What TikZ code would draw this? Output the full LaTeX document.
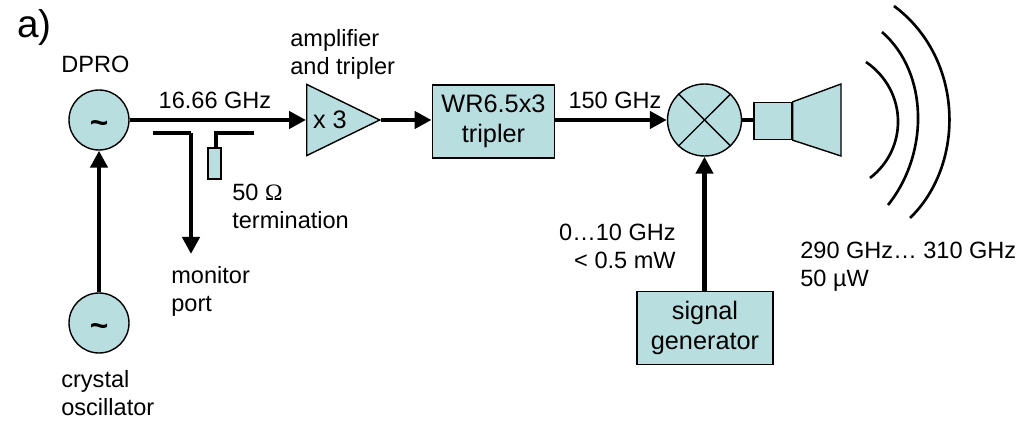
\documentclass[tikz,border=0pt]{standalone}
\usepackage{fontspec}
\setmainfont{Liberation Sans}
\newfontfamily\omegafont{Liberation Serif}
\usepackage{xcolor}
\usetikzlibrary{arrows.meta,positioning,shapes.geometric}
\definecolor{cblock}{rgb}{0.72,0.87,0.88}
\tikzset{
  blockbox/.style={draw, fill=cblock, thick, inner sep=0pt, align=center, font=\fontsize{14.4}{17.2}\selectfont},
  osc/.style={blockbox, circle, minimum size=1.20cm, font=\fontsize{18}{18}\selectfont\bfseries},
  feed/.style={line width=2.8pt, -{Triangle[length=3.4mm,width=3.4mm]}},
  feedplain/.style={line width=2.8pt},
  stub/.style={line width=2.2pt},
  wave/.style={line width=1.5pt},
  lbl/.style={inner sep=0pt, align=left}
}

\begin{document}
\begin{tikzpicture}[font=\fontsize{13.4}{15.9}\selectfont]
        \useasboundingbox (0,0) rectangle (20.38,8.40);

        % sources
        \node[osc] (dpro) at (1.98,6.00){\smash{\raisebox{-2.8mm}{\char`\~}}};
        \node[osc] (crystal) at (1.98,1.94){\smash{\raisebox{-2.8mm}{\char`\~}}};

        % chain
        \node[blockbox, isosceles triangle, isosceles triangle apex angle=52,
              minimum height=1.46cm, minimum width=1.42cm, anchor=lower side]
              (amp) at (6.12,6.00){x 3};
        \node[blockbox, minimum width=2.45cm, minimum height=1.46cm]
              (tripler) at (9.87,5.97){WR6.5x3\\tripler};
        \node[blockbox, ellipse, minimum width=1.48cm, minimum height=1.44cm]
              (mixer) at (14.09,6.00){};
        \node[blockbox, minimum width=2.72cm, minimum height=1.46cm]
              (siggen) at (14.10,1.84){signal\\generator};
        \node[blockbox, minimum width=0.76cm, minimum height=0.74cm]
              (hornbox) at (15.46,5.98){};
        \node[blockbox, minimum width=0.26cm, minimum height=0.62cm]
              (term) at (4.29,5.13){};

        % mixer cross
        \draw[thick] (mixer.45)--(mixer.225);
        \draw[thick] (mixer.135)--(mixer.315);

        % horn
        \draw[blockbox] (hornbox.north east)--(16.82,6.72)--(16.82,5.28)
          --(hornbox.south east)--cycle;

        % connectors
        \draw[feed] (crystal)--(dpro);
        \draw[feed] (dpro)--(amp.lower side);
        \draw[feed] (amp.apex)--(tripler.west|-amp.apex);
        \draw[feed] (tripler.east|-mixer.west)--(mixer.west);
        \draw[feed] (siggen.north-|mixer.south)--(mixer.south);
        \draw[feedplain] (mixer.east)--(hornbox.west|-mixer.east);

        % couplers
        \coordinate (monstart) at (3.06,5.74);
        \coordinate (moncorner) at (3.82,5.74);
        \coordinate (monend) at (3.82,3.32);
        \coordinate (termstart) at (4.32,5.74);
        \coordinate (termend) at (5.08,5.74);
        \draw[stub] (monstart)--(moncorner);
        \draw[feed] (moncorner)--(monend);
        \draw[stub] (termend)--(termstart)--(termstart|-term.north);

        % radiation
        \draw[wave] (17.32,7.16) .. controls (18.16,6.58) and (18.16,5.42) .. (17.40,4.84);
        \draw[wave] (17.64,7.76) .. controls (18.58,6.94) and (18.58,5.32) .. (17.76,4.30);
        \draw[wave] (17.88,8.28) .. controls (19.30,7.22) and (19.30,5.10) .. (18.20,4.04);

        % labels
        \node[lbl, font=\fontsize{22}{24}\selectfont, anchor=west] (panel) at (0.34,7.84){a)};
        \node[lbl, anchor=west] (dprotext) at (1.22,7.12){DPRO};
        \node[lbl] (freqa) at (4.30,6.40){16.66 GHz};
        \node[lbl, anchor=west] (amptext) at (5.80,7.32){amplifier\\and tripler};
        \node[lbl, anchor=west] (termtext) at (4.64,4.28){50 {\omegafont\char"03A9}\\termination};
        \node[lbl, anchor=west] (montext) at (3.42,2.57){monitor\\port};
        \node[lbl, anchor=west] (crystext) at (1.22,0.54){crystal\\oscillator};
        \node[lbl] (freqb) at (12.30,6.40){150 GHz};
        \node[lbl, align=right, anchor=east] (lotext) at (13.52,3.48){0…10 GHz\\< 0.5 mW};
        \node[lbl, anchor=west] (rftext) at (16.00,3.06){290 GHz… 310 GHz\\50 µW};
      \end{tikzpicture}
\end{document}
